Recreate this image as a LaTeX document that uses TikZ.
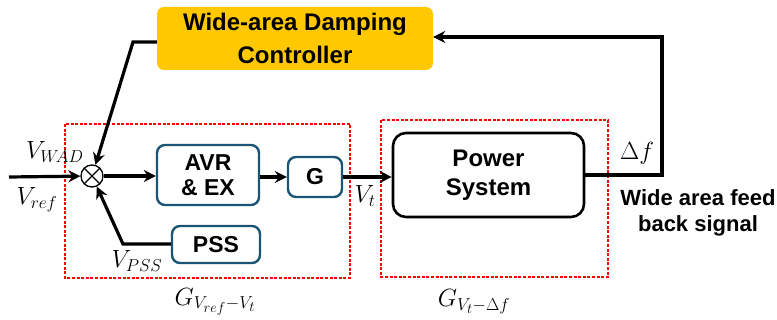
\documentclass[tikz,border=0pt]{standalone}
\usepackage{fontspec}
\newfontfamily\lab{Liberation Sans}
\usetikzlibrary{arrows.meta}
\definecolor{wgold}{RGB}{255,200,0}
\definecolor{bteal}{RGB}{28,84,118}
\begin{document}
\begin{tikzpicture}[x=1pt,y=-1pt,
  blk/.style={draw=bteal,line width=2.4pt,rounded corners=8pt,align=center,inner sep=0pt,font=\lab\bfseries\fontsize{23}{27}\selectfont},
  sig/.style={line width=3.2pt,-{Stealth[length=12pt,width=12pt,inset=4pt]}},
  grp/.style={draw=red,line width=2.3pt,dash pattern=on 3pt off 1.6pt},
  mlab/.style={inner sep=0pt,font=\fontsize{27}{30}\selectfont}]
\useasboundingbox (0,0) rectangle (777,320);
% group boxes
\draw[grp] (65,124) rectangle (350,278);
\draw[grp] (381,120) rectangle (608,277);
% blocks
\node[fill=wgold,rounded corners=7pt,minimum width=276pt,minimum height=63pt,align=center,inner sep=0pt,
  font=\lab\bfseries\fontsize{24}{33}\selectfont] (wadc) at (295,38.5) {Wide-area Damping\\Controller};
\node[draw,circle,line width=1.3pt,minimum size=22pt,inner sep=0pt] (sum) at (92,176) {};
\draw[line width=1.1pt] (sum.north west) -- (sum.south east) (sum.north east) -- (sum.south west);
\node[blk,minimum width=102pt,minimum height=60pt] (avr) at (208,175) {AVR\\[-2pt]\& EX};
\node[blk,minimum width=54pt,minimum height=40pt] (g) at (315,177) {G};
\node[blk,minimum width=88pt,minimum height=37pt] (pss) at (216,244.5) {PSS};
\node[draw=black,line width=2.6pt,rounded corners=13pt,minimum width=191pt,minimum height=84pt,align=center,inner sep=0pt,
  font=\lab\bfseries\fontsize{24}{29}\selectfont] (ps) at (488.5,175) {Power\\System};
% coordinates
\coordinate (in) at (9,177);
\coordinate (c1) at (133,42);
\coordinate (c2) at (123,244);
\coordinate (c3) at (662,175);
\coordinate (c4) at (662,37);
% connectors
\draw[sig] (in) -- (sum);
\draw[sig] (sum) -- (avr.west |- sum);
\draw[sig] (avr.east |- g) -- (g.west);
\draw[sig] (g.east) -- (ps.west |- g.east);
\draw[sig] (ps.east) -- (c3) -- (c4) -- (wadc.east |- c4);
\draw[sig] (wadc.west |- c1) -- (c1) -- (sum);
\draw[sig] (pss.west |- c2) -- (c2) -- (sum);
% labels
\node[mlab,anchor=west] (lwad) at (26,152) {$V_{W\!AD}$};
\node[mlab] (lref) at (37,200) {$V_{ref}$};
\node[mlab] (lpss) at (137,261) {$V_{PSS}$};
\node[mlab] (lvt) at (365,196) {$V_t$};
\node[mlab] (ldf) at (637,153) {$\Delta f$};
\node[mlab] (lg1) at (215,302) {$G_{V_{ref}-V_t}$};
\node[mlab] (lg2) at (474,302) {$G_{V_t-\Delta f}$};
\node[align=center,inner sep=0pt,font=\lab\bfseries\fontsize{22}{26}\selectfont] (lwide) at (698,213) {Wide area feed\\back signal};
\end{tikzpicture}
\end{document}
